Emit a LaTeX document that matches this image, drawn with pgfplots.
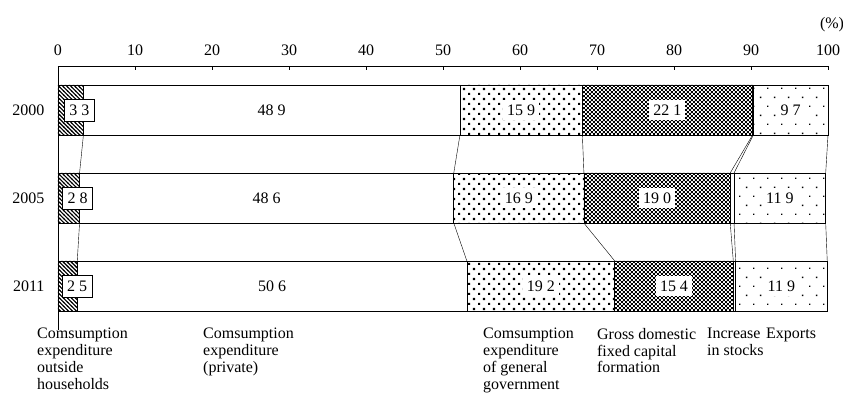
\documentclass[border=0pt]{standalone}
\usepackage{fontspec}
\setmainfont{Liberation Serif}
\usepackage{pgfplots}
\pgfplotsset{compat=1.18}
\usepackage{pgfplotstable}
\usetikzlibrary{patterns}

\pgfdeclarepatternformonly{hatchNW}{\pgfqpoint{-1pt}{-1pt}}{\pgfqpoint{5pt}{5pt}}{\pgfqpoint{4pt}{4pt}}{%
  \pgfsetlinewidth{1.1pt}%
  \pgfpathmoveto{\pgfqpoint{-0.5pt}{4.5pt}}%
  \pgfpathlineto{\pgfqpoint{4.5pt}{-0.5pt}}%
  \pgfusepath{stroke}}
\pgfdeclarepatternformonly{densedots}{\pgfqpoint{0pt}{0pt}}{\pgfqpoint{10pt}{10pt}}{\pgfqpoint{10pt}{10pt}}{%
  \pgfpathrectangle{\pgfqpoint{0pt}{0pt}}{\pgfqpoint{2.2pt}{2.2pt}}%
  \pgfpathrectangle{\pgfqpoint{5pt}{5pt}}{\pgfqpoint{2.2pt}{2.2pt}}%
  \pgfusepath{fill}}
\pgfdeclarepatternformonly{checker}{\pgfqpoint{0pt}{0pt}}{\pgfqpoint{4pt}{4pt}}{\pgfqpoint{4pt}{4pt}}{%
  \pgfpathrectangle{\pgfqpoint{0pt}{0pt}}{\pgfqpoint{2pt}{2pt}}%
  \pgfpathrectangle{\pgfqpoint{2pt}{2pt}}{\pgfqpoint{2pt}{2pt}}%
  \pgfusepath{fill}}
\pgfdeclarepatternformonly{sparsedots}{\pgfqpoint{0pt}{0pt}}{\pgfqpoint{14pt}{18pt}}{\pgfqpoint{14pt}{18pt}}{%
  \pgfpathrectangle{\pgfqpoint{0pt}{0pt}}{\pgfqpoint{1.5pt}{1.5pt}}%
  \pgfpathrectangle{\pgfqpoint{7pt}{9pt}}{\pgfqpoint{1.5pt}{1.5pt}}%
  \pgfusepath{fill}}

\pgfplotstableread{
idx outside private gov gross stocks exports
0   3.3     48.9    15.9 22.1  0.1    9.7
1   2.8     48.6    16.9 19.0  0.5    11.9
2   2.5     50.6    19.2 15.4  0.3    11.9
}\shares

\begin{document}
\begin{tikzpicture}[font=\fontsize{16bp}{18bp}\selectfont]
\begin{axis}[
  at={(0,0)}, anchor=south west,
  scale only axis, width=770bp, height=264bp,
  xbar stacked, bar width=0.57,
  xmin=0, xmax=100, ymin=-0.5, ymax=2.5,
  y dir=reverse,
  axis x line*=top, axis y line*=left,
  axis line style={line width=0.8bp},
  xtick={0,10,...,100},
  tick align=inside,
  major tick length=4bp,
  x tick style={line width=0.8bp, black},
  xticklabel style={yshift=7bp},
  ytick={0,1,2}, yticklabels={2000,2005,2011},
  y tick style={draw=none},
  yticklabel style={xshift=-10bp},
  /pgf/number format/assume math mode=true,
  clip=false,
  every axis plot/.append style={draw=black, line width=0.7bp},
]
\addplot[pattern=hatchNW] table[x=outside, y=idx] {\shares};
\addplot[fill=white] table[x=private, y=idx] {\shares};
\addplot[pattern=densedots] table[x=gov, y=idx] {\shares};
\addplot[pattern=checker] table[x=gross, y=idx] {\shares};
\addplot[fill=white] table[x=stocks, y=idx] {\shares};
\addplot[pattern=sparsedots] table[x=exports, y=idx] {\shares};
\end{axis}
\begin{axis}[
  at={(0,0)}, anchor=south west,
  scale only axis, width=770bp, height=264bp,
  xmin=0, xmax=100, ymin=-0.5, ymax=2.5,
  y dir=reverse, hide axis, clip=false,
]
\addplot[black, line width=0.4bp] coordinates {(3.3,0.285) (2.8,0.715)};
\addplot[black, line width=0.4bp] coordinates {(52.2,0.285) (51.4,0.715)};
\addplot[black, line width=0.4bp] coordinates {(68.1,0.285) (68.3,0.715)};
\addplot[black, line width=0.4bp] coordinates {(90.2,0.285) (87.3,0.715)};
\addplot[black, line width=0.4bp] coordinates {(90.3,0.285) (87.8,0.715)};
\addplot[black, line width=0.4bp] coordinates {(100,0.285) (99.7,0.715)};
\addplot[black, line width=0.4bp] coordinates {(2.8,1.285) (2.5,1.715)};
\addplot[black, line width=0.4bp] coordinates {(51.4,1.285) (53.1,1.715)};
\addplot[black, line width=0.4bp] coordinates {(68.3,1.285) (72.3,1.715)};
\addplot[black, line width=0.4bp] coordinates {(87.3,1.285) (87.7,1.715)};
\addplot[black, line width=0.4bp] coordinates {(87.8,1.285) (88.0,1.715)};
\addplot[black, line width=0.4bp] coordinates {(99.7,1.285) (99.9,1.715)};

\tikzset{vl/.style={fill=white, inner xsep=4bp, inner ysep=5bp},
         bl/.style={fill=white, draw=black, line width=0.6bp, inner xsep=5bp, inner ysep=5.5bp, anchor=west}}
% value labels
\node[bl] at (axis cs:0.8,0) {3 3};
\node[bl] at (axis cs:0.55,1) {2 8};
\node[bl] at (axis cs:0.5,2) {2 5};
\node at (axis cs:27.75,0) {48 9};
\node at (axis cs:27.1,1) {48 6};
\node at (axis cs:27.8,2) {50 6};
\node[vl] at (axis cs:60.15,0) {15 9};
\node[vl] at (axis cs:59.85,1) {16 9};
\node[vl] at (axis cs:62.7,2) {19 2};
\node[vl] at (axis cs:79.15,0) {22 1};
\node[vl] at (axis cs:77.8,1) {19 0};
\node[vl] at (axis cs:80.0,2) {15 4};
\node[vl] at (axis cs:95.15,0) {9 7};
\node[vl] at (axis cs:93.75,1) {11 9};
\node[vl] at (axis cs:93.95,2) {11 9};

% unit
\node[anchor=center, xshift=4bp, yshift=41bp] at (axis cs:100,-0.5) {(\%)};

% category names
\tikzset{cl/.style={anchor=north west, align=left, inner sep=0pt, yshift=2bp,
    font=\fontsize{16bp}{16.8bp}\selectfont}}
\node[cl] at (axis cs:-2.73,2.5) {Comsumption\\expenditure\\outside\\households};
\node[cl] at (axis cs:18.83,2.5) {Comsumption\\expenditure\\(private)};
\node[cl] at (axis cs:55.19,2.5) {Comsumption\\expenditure\\of general\\government};
\node[cl] at (axis cs:69.99,2.5) {Gross domestic\\fixed capital\\formation};
\node[cl] at (axis cs:84.29,2.5) {Increase\\in stocks};
\node[cl] at (axis cs:91.95,2.5) {Exports};
\end{axis}
\pgfresetboundingbox
\path[use as bounding box] (-58bp,-64bp) rectangle (785bp,330bp);
\end{tikzpicture}
\end{document}
